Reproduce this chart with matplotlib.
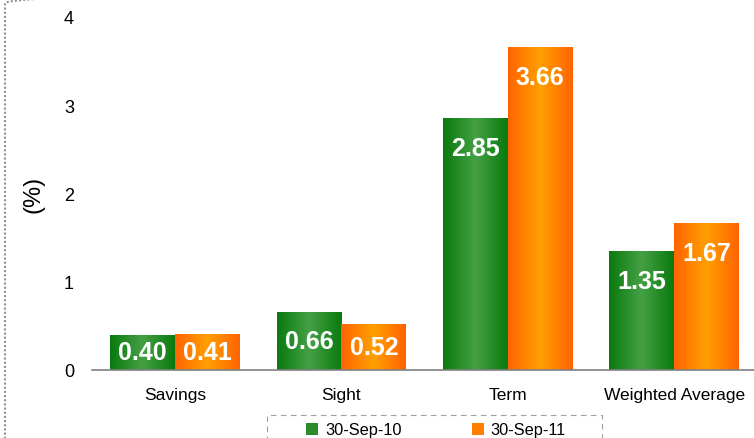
import matplotlib.pyplot as plt
import numpy as np
from matplotlib.patches import Patch, Rectangle, FancyBboxPatch
from matplotlib.colors import LinearSegmentedColormap

plt.rcParams['font.family'] = ['Liberation Sans', 'DejaVu Sans']

# deposit rates by type
categories = ["Savings", "Sight", "Term", "Weighted Average"]
sep10 = [0.40, 0.66, 2.85, 1.35]
sep11 = [0.41, 0.52, 3.66, 1.67]
series_names = ["30-Sep-10", "30-Sep-11"]
yticks = [0, 1, 2, 3, 4]

# horizontal gradients: dark edges, lighter middle
green_cm = LinearSegmentedColormap.from_list("g", ["#0a7a0e", "#45a045", "#0a7a0e"])
orange_cm = LinearSegmentedColormap.from_list("o", ["#ff6400", "#ffa000", "#ff6400"])

fig = plt.figure(figsize=(7.54, 4.39), dpi=100)
ax = fig.add_axes([0.122, 0.155, 0.878, 0.804])

x = np.arange(len(categories))
w = 0.39
grad = np.linspace(0, 1, 64).reshape(1, -1)

def gradient_bars(xpos, vals, cmap):
    bars = ax.bar(xpos, vals, w, facecolor='none', edgecolor='none')
    for b in bars:
        x0, y0 = b.get_x(), b.get_y()
        im = ax.imshow(grad, cmap=cmap, aspect='auto',
                       extent=[x0, x0 + b.get_width(), y0, y0 + b.get_height()],
                       zorder=2)
        im.set_clip_path(b)
    return bars

gradient_bars(x - w / 2, sep10, green_cm)
gradient_bars(x + w / 2, sep11, orange_cm)

# value labels inside the bar tops
for xs, vals in ((x - w / 2, sep10), (x + w / 2, sep11)):
    for xi, v in zip(xs, vals):
        ypos = max(v - 0.34, v / 2)
        ax.text(xi, ypos, f"{v:.2f}", ha='center', va='center', color='white',
                fontsize=18, fontweight='bold', zorder=3)

ax.set_xlim(-0.5, 3.48)
ax.set_ylim(0, 4)
ax.set_xticks(x)
ax.set_xticklabels(categories, fontsize=12.5)
ax.set_yticks(yticks)
ax.set_yticklabels([str(t) for t in yticks], fontsize=13)
ax.tick_params(axis='both', length=0)
ax.tick_params(axis='x', pad=12)
ax.tick_params(axis='y', pad=13)
for s in ('top', 'right', 'left'):
    ax.spines[s].set_visible(False)
ax.spines['bottom'].set_color('#808080')
ax.spines['bottom'].set_linewidth(1.2)
ax.spines['bottom'].set_zorder(4)
ax.set_ylabel("(%)", fontsize=17, labelpad=14)

# dashed legend frame running off the bottom edge
fig.patches.append(Rectangle((267 / 754, -0.05), 335 / 754, 0.05 + 23 / 439,
                             transform=fig.transFigure, fill=False,
                             edgecolor='#a0a0a0', linestyle=(0, (5, 4)),
                             linewidth=0.8))
handles = [Patch(facecolor='#2a8c2a', edgecolor='none'),
           Patch(facecolor='#ff8000', edgecolor='none')]
fig.legend(handles, series_names, loc='center left', ncol=2, frameon=False,
           bbox_to_anchor=(306 / 754, 1 - 431 / 439), fontsize=11.8,
           handlelength=0.75, handleheight=0.75, handletextpad=0.4,
           columnspacing=4.3, borderaxespad=0, borderpad=0)

# dotted rounded outline at the left edge
fig.patches.append(FancyBboxPatch((5 / 754, -0.2), 1.2, 1.22,
                                  boxstyle="round,pad=0,rounding_size=0.03",
                                  transform=fig.transFigure, fill=False,
                                  edgecolor='#909090', linestyle=(0, (1, 1)),
                                  linewidth=1.5))

fig.savefig("out.png", dpi=100)
